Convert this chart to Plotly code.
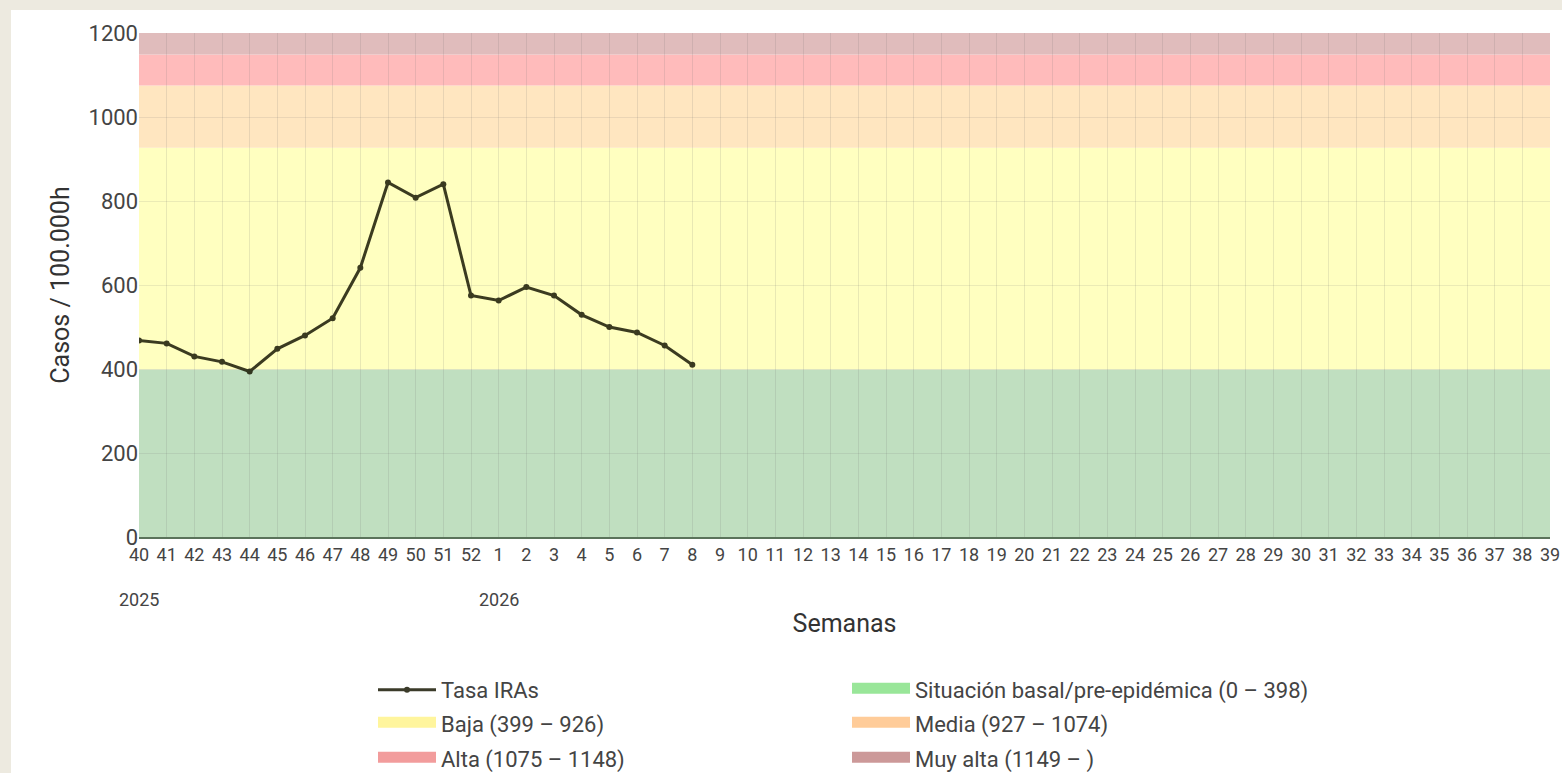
import plotly.graph_objects as go

# ---- data ----
weeks = [str(w) for w in list(range(40, 53)) + list(range(1, 40))]
tasa_weeks = [str(w) for w in list(range(40, 53)) + list(range(1, 9))]
tasa_values = [468, 461, 430, 417, 394, 448, 480, 521, 641, 844, 808, 840,
               575, 563, 595, 575, 529, 500, 487, 456, 410]

band_names = ["Situación basal/pre-epidémica (0 – 398)", "Baja (399 – 926)",
              "Media (927 – 1074)", "Alta (1075 – 1148)", "Muy alta (1149 – )"]
band_lo = [0, 399, 927, 1075, 1149]
band_hi = [399, 927, 1075, 1149, 1200]
band_fill = ["#c0dfc0", "#ffffc0", "#ffe6c0", "#ffbbbb", "#e0bcbc"]
band_swatch = ["#99e699", "#fff59d", "#ffcc99", "#f29c9c", "#cc9999"]

year_labels = ["2025", "2026"]
year_weeks = ["40", "1"]

y_ticks = [0, 200, 400, 600, 800, 1000, 1200]

# ---- layout geometry ----
W, H = 1562, 773
L, R, T, B = 139, 12, 33, 236
pw, ph = W - L - R, H - T - B


def px_x(px):
    return (px - L) / pw


def px_y(py):
    return (H - B - py) / ph


FONT = "Roboto"
TXT = "#444444"

fig = go.Figure()

fig.add_trace(go.Scatter(
    x=tasa_weeks, y=tasa_values, mode="lines+markers", name="Tasa IRAs",
    line=dict(color="#1a1a05", width=3), marker=dict(color="#1a1a05", size=6),
    opacity=0.85, legend="legend",
))

legend_ids = ["legend2", "legend3", "legend4", "legend5", "legend6"]
for name, col, lid in zip(band_names, band_swatch, legend_ids):
    fig.add_trace(go.Scatter(
        x=[None], y=[None], mode="lines", name=name, fill="toself",
        fillcolor=col, line=dict(color=col, width=10), legend=lid,
        hoverinfo="skip",
    ))

shapes = [dict(type="rect", xref="paper", yref="paper", x0=px_x(11), x1=1.2,
               y0=-0.7, y1=px_y(10), fillcolor="white", line_width=0,
               layer="below")]
for lo, hi, col in zip(band_lo, band_hi, band_fill):
    shapes.append(dict(type="rect", xref="paper", yref="y", x0=0, x1=1,
                       y0=lo, y1=hi, fillcolor=col, line_width=0,
                       layer="below"))

annotations = []
for lab, wk in zip(year_labels, year_weeks):
    annotations.append(dict(x=weeks.index(wk), y=px_y(599), xref="x", yref="paper",
                            text=lab, showarrow=False,
                            font=dict(family=FONT, size=18, color=TXT),
                            xanchor="center", yanchor="middle"))

# legend positions (row centres in px)
col_x = [373, 847]
row_y = [690, 724, 759]
pos = [(0, 0), (1, 0), (0, 1), (1, 1), (0, 2), (1, 2)]
legend_cfg = {}
for i, (c, r) in enumerate(pos):
    key = "legend" if i == 0 else f"legend{i + 1}"
    legend_cfg[key] = dict(
        x=px_x(col_x[c]), y=px_y(row_y[r]), xanchor="left", yanchor="middle",
        orientation="v", itemwidth=58, bgcolor="rgba(0,0,0,0)",
        font=dict(family=FONT, size=22, color=TXT),
    )

fig.update_layout(
    width=W, height=H, autosize=False,
    margin=dict(l=L, r=R, t=T, b=B, autoexpand=False),
    paper_bgcolor="#edeae0", plot_bgcolor="rgba(0,0,0,0)",
    font=dict(family=FONT, color=TXT),
    shapes=shapes, annotations=annotations, showlegend=True,
    **legend_cfg,
)

fig.update_xaxes(
    type="category", categoryorder="array", categoryarray=weeks,
    range=[0, len(weeks) - 1], showgrid=True,
    gridcolor="rgba(110,110,110,0.16)", gridwidth=1,
    showline=True, linecolor="rgba(50,80,50,0.8)", linewidth=2,
    ticks="", tickfont=dict(family=FONT, size=18, color=TXT),
    title=dict(text="Semanas", font=dict(family=FONT, size=25, color="#333333"),
               standoff=51),
    automargin=False, zeroline=False, fixedrange=True,
)
fig.update_yaxes(
    range=[0, 1200], tickvals=y_ticks, showgrid=True,
    gridcolor="rgba(110,110,110,0.14)", gridwidth=1, zeroline=False,
    ticks="", tickfont=dict(family=FONT, size=22, color=TXT),
    title=dict(text="Casos / 100.000h", font=dict(family=FONT, size=25, color="#333333"),
               standoff=11),
    automargin=False, fixedrange=True,
)

fig.write_html("out.html", config={"displayModeBar": False},
               post_script="document.body.style.margin='0';")
